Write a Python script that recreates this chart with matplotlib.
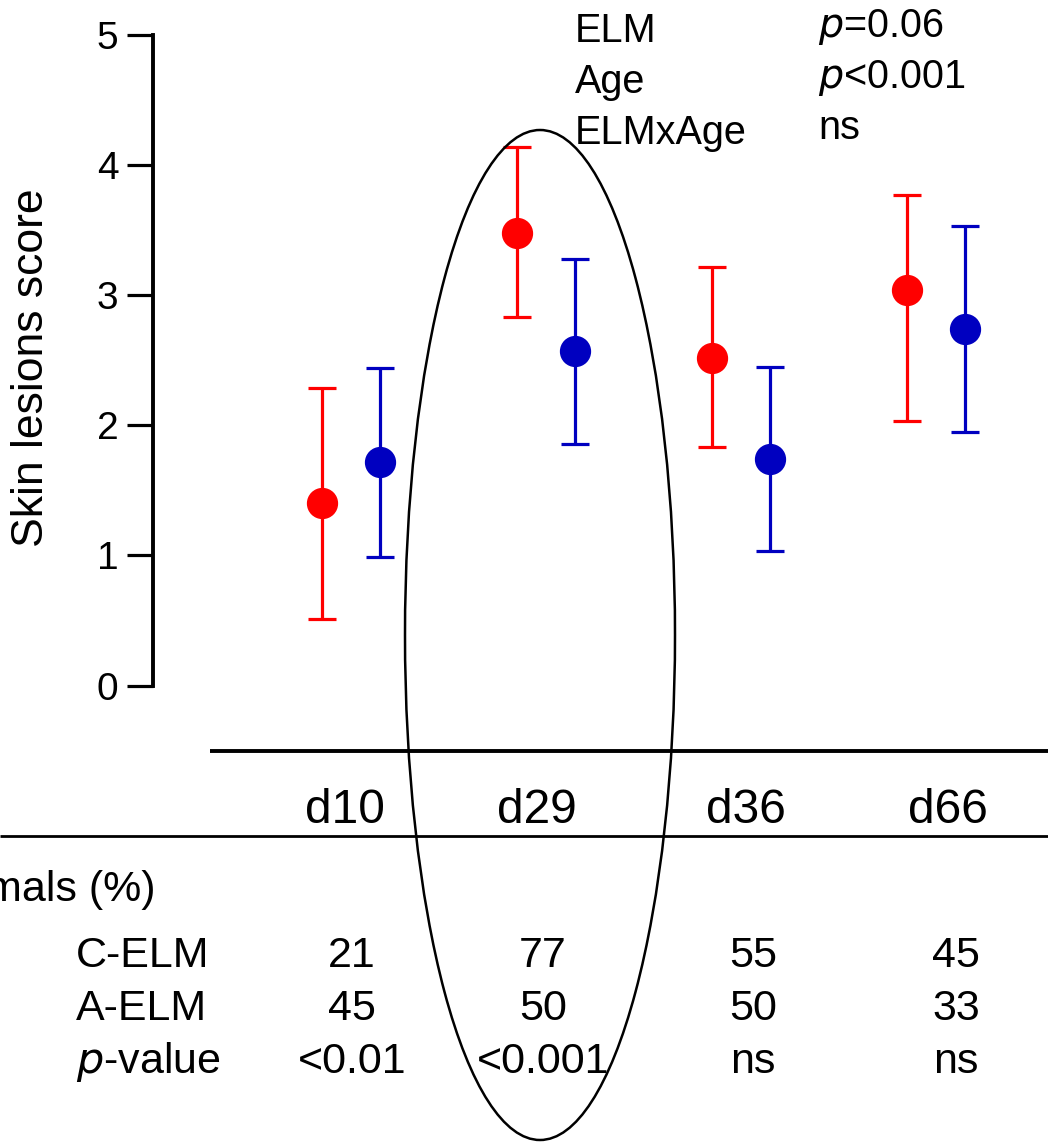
import matplotlib
matplotlib.use("Agg")
import matplotlib.pyplot as plt
from matplotlib.patches import Ellipse
import numpy as np

plt.rcParams['font.family'] = ['Liberation Sans', 'DejaVu Sans']

# Skin lesion scores by day (mean with lower / upper error limits)
days = ['d10', 'd29', 'd36', 'd66']
c_elm_mean = [1.40, 3.48, 2.52, 3.04]
c_elm_low = [0.51, 2.83, 1.83, 2.03]
c_elm_high = [2.29, 4.14, 3.22, 3.77]
a_elm_mean = [1.72, 2.57, 1.74, 2.74]
a_elm_low = [0.99, 1.86, 1.03, 1.95]
a_elm_high = [2.44, 3.28, 2.45, 3.53]

# Affected animals table
row_labels = ['C-ELM', 'A-ELM', '$p$-value']
c_elm_pct = ['21', '77', '55', '45']
a_elm_pct = ['45', '50', '50', '33']
pct_pvalues = ['<0.01', '<0.001', 'ns', 'ns']

# Model effects
effects = ['ELM', 'Age', 'ELMxAge']
effect_p = ['$p$=0.06', '$p$<0.001', 'ns']

RED = '#ff0000'
BLUE = '#0000c0'

W, H = 1048, 1142
fig = plt.figure(figsize=(W / 100, H / 100), dpi=100)

# main plotting axes: y spine at x=153 px, y=0 at 685.5 px, y=5 at 35 px
y0_px, y5_px = 685.5, 35.0
ax = fig.add_axes([153 / W, (H - y0_px) / H, (W - 153) / W, (y0_px - y5_px) / H])
ax.set_ylim(0, 5)
xc = np.arange(len(days))
# category spacing ~195 px, d10 pair centred at 351 px
px_per_unit = 195.0
ax.set_xlim((153 - 351) / px_per_unit, (W - 351) / px_per_unit)
off = 29 / px_per_unit

for s in ['top', 'right', 'bottom']:
    ax.spines[s].set_visible(False)
ax.spines['left'].set_linewidth(2.8)
ax.set_xticks([])
ax.set_yticks([0, 1, 2, 3, 4, 5])
ax.tick_params(axis='y', length=19, width=2.3, pad=6, labelsize=28)
ax.set_ylabel('Skin lesions score', fontsize=32)
ax.yaxis.set_label_coords(-0.113, 0.488)

def draw_series(x, mean, low, high, color):
    mean = np.asarray(mean)
    yerr = np.vstack([mean - np.asarray(low), np.asarray(high) - mean])
    ax.errorbar(x, mean, yerr=yerr, fmt='o', color=color, ms=21.5,
                elinewidth=2.3, capsize=10, capthick=2.3, clip_on=False,
                zorder=3)

draw_series(xc - off, c_elm_mean, c_elm_low, c_elm_high, RED)
draw_series(xc + off, a_elm_mean, a_elm_low, a_elm_high, BLUE)

# overlay in pixel coordinates for table, rules and annotations
ov = fig.add_axes([0, 0, 1, 1], facecolor='none')
ov.set_xlim(0, W)
ov.set_ylim(H, 0)
ov.axis('off')

ov.plot([210, W], [751, 751], color='black', lw=2.8, solid_capstyle='butt')
ov.plot([0, W], [836, 836], color='black', lw=2.0, solid_capstyle='butt')

day_x = [345, 537, 746, 948]
for x, d in zip(day_x, days):
    ov.text(x, 823, d, ha='center', va='baseline', fontsize=34.5)

ov.text(155, 901, 'Animals (%)', ha='right', va='baseline', fontsize=31)

col_x = [352, 543, 753, 956]
row_base = [967, 1020, 1073]
for yb, lab in zip(row_base, row_labels):
    ov.text(76, yb, lab, ha='left', va='baseline', fontsize=31)
for yb, vals in zip(row_base, [c_elm_pct, a_elm_pct, pct_pvalues]):
    for x, v in zip(col_x, vals):
        ov.text(x, yb, v, ha='center', va='baseline', fontsize=31)

eff_base = [42, 93, 144]
for yb, e, p in zip(eff_base, effects, effect_p):
    ov.text(575, yb, e, ha='left', va='baseline', fontsize=28.5)
    ov.text(818, yb - 5, p, ha='left', va='baseline', fontsize=28.5)

ov.add_patch(Ellipse((540, 635), 270, 1010, fill=False, edgecolor='black',
                     lw=1.8, zorder=5))

fig.savefig('out.png', dpi=100)
